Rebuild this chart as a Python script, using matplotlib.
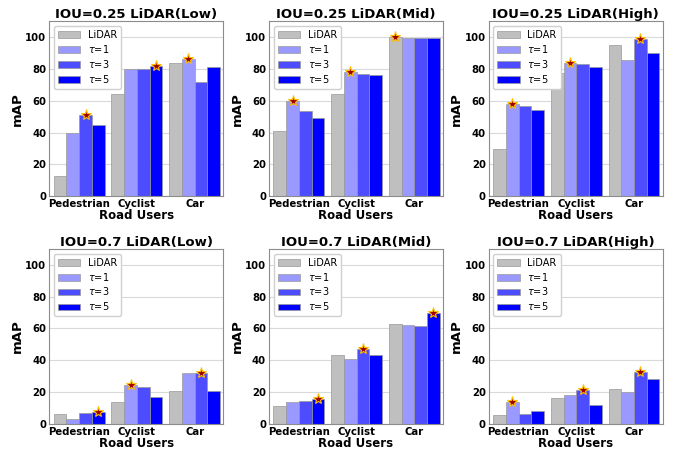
import numpy as np
import matplotlib
matplotlib.use("Agg")
import matplotlib.pyplot as plt

users = ["Pedestrian", "Cyclist", "Car"]
series = ["LiDAR", r"$\tau$=1", r"$\tau$=3", r"$\tau$=5"]
titles = ["IOU=0.25 LiDAR(Low)", "IOU=0.25 LiDAR(Mid)", "IOU=0.25 LiDAR(High)",
          "IOU=0.7 LiDAR(Low)", "IOU=0.7 LiDAR(Mid)", "IOU=0.7 LiDAR(High)"]

# rows: LiDAR, tau=1, tau=3, tau=5 ; cols: Pedestrian, Cyclist, Car
iou25_low = [[13, 64, 84], [40, 80, 86], [51, 80, 71.5], [45, 82, 81]]
iou25_mid = [[41, 64.5, 100], [60, 78, 99.6], [53.5, 77, 99.6], [49, 76, 99.6]]
iou25_high = [[30, 77.5, 95], [58, 84, 85.5], [57, 83, 99], [54, 81, 90]]
iou07_low = [[6, 14, 21], [3, 24.5, 31.8], [7, 23.5, 32.2], [7.5, 17, 21]]
iou07_mid = [[11, 43, 62.5], [13.5, 41, 62], [14.5, 47, 61.5], [15.5, 43.5, 70]]
iou07_high = [[5.5, 16, 22], [13.5, 18, 20], [6, 21.5, 32.5], [8, 12, 28]]
panels = [iou25_low, iou25_mid, iou25_high, iou07_low, iou07_mid, iou07_high]

colors = ["#bfbfbf", "#9999ff", "#4d4dff", "#0000ff"]
width = 0.22
x = np.arange(len(users))

fig, axes = plt.subplots(2, 3, figsize=(6.73, 4.51), dpi=100)
plt.subplots_adjust(left=0.073, right=0.985, top=0.953, bottom=0.06, wspace=0.26, hspace=0.30)

for ax, data, title in zip(axes.flat, panels, titles):
    data = np.array(data, dtype=float)
    ax.set_axisbelow(True)
    ax.yaxis.grid(True, color="#d9d9d9", linewidth=0.8)
    for i in range(len(series)):
        ax.bar(x + (i - 1.5) * width, data[i], width, color=colors[i],
               edgecolor="#999999", linewidth=0.5, label=series[i])
    # star on best of each group
    best = np.argmax(data, axis=0)
    for j in range(len(users)):
        ax.plot(x[j] + (best[j] - 1.5) * width, data[best[j], j], marker="*",
                markersize=8, color="#a00000", markeredgecolor="#ffc000",
                markeredgewidth=0.8, linestyle="none")
    ax.set_ylim(0, 110)
    ax.set_xlim(-0.52, 2.5)
    ax.set_yticks([0, 20, 40, 60, 80, 100])
    ax.set_xticks(x)
    ax.set_xticklabels(users, fontweight="bold", fontsize=7.3)
    for t in ax.get_yticklabels():
        t.set_fontweight("bold")
        t.set_fontsize(7.3)
    ax.tick_params(length=0, pad=2)
    ax.set_title(title, fontweight="bold", fontsize=9.5, pad=2)
    ax.set_ylabel("mAP", fontweight="bold", fontsize=9.5, labelpad=1)
    ax.set_xlabel("Road Users", fontweight="bold", fontsize=8.5, labelpad=0)
    for s in ax.spines.values():
        s.set_color("#8c8c8c")
    ax.legend(loc="upper left", fontsize=7, handlelength=2.3, borderpad=0.4,
              labelspacing=0.3, framealpha=1, edgecolor="#d0d0d0")

fig.savefig("out.png", dpi=100)
